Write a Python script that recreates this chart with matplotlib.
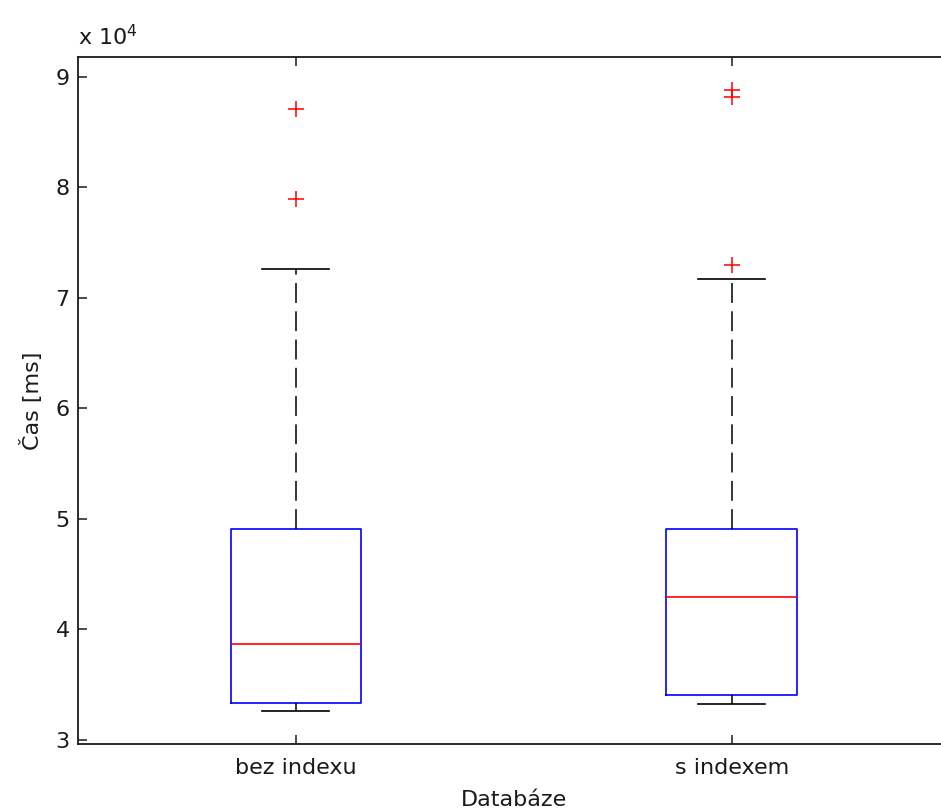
import matplotlib
matplotlib.use('Agg')
import matplotlib.pyplot as plt
from matplotlib.ticker import FuncFormatter

# box statistics, in ms
labels = ['bez indexu', 's indexem']
q1 = [33350, 34040]
median = [38710, 42900]
q3 = [49050, 49050]
whislo = [32590, 33280]
whishi = [72590, 71650]
outliers = [[87050, 78940], [88830, 88170, 72950]]

plt.rcParams['font.family'] = 'DejaVu Sans'
plt.rcParams['font.size'] = 16

fig = plt.figure(figsize=(9.41, 8.09), dpi=100)
# right spine sits just outside the picture, as in the screenshot
ax = fig.add_axes([78 / 941, 65 / 809, 871.6 / 941, 687 / 809])

stats = []
for i in range(len(labels)):
    stats.append({'label': labels[i], 'q1': q1[i], 'med': median[i], 'q3': q3[i],
                  'whislo': whislo[i], 'whishi': whishi[i], 'fliers': outliers[i]})

ax.bxp(stats, positions=[1, 2], widths=0.3, capwidths=0.154,
       boxprops=dict(color='#0000ff', lw=1.2),
       medianprops=dict(color='#ff0000', lw=1.2),
       whiskerprops=dict(color='black', lw=1.1, linestyle=(0, (13, 5.5))),
       capprops=dict(color='black', lw=1.2),
       flierprops=dict(marker='+', markeredgecolor='#ff0000', markersize=12,
                       markeredgewidth=1.1, linestyle='none'))

ax.set_xlim(0.5, 2.5)
ax.set_ylim(29640, 91770)
ax.set_yticks([30000, 40000, 50000, 60000, 70000, 80000, 90000])
ax.yaxis.set_major_formatter(FuncFormatter(lambda v, p: f'{v / 1e4:g}'))
ax.set_xticks([1, 2])
ax.set_xticklabels(labels)

ax.tick_params(direction='in', length=6.5, width=1.1, top=True, right=True,
               labelsize=16, pad=6, colors='#1a1a1a')
ax.tick_params(axis='x', pad=10)
for s in ax.spines.values():
    s.set_linewidth(1.3)
    s.set_color('#1a1a1a')

ax.set_xlabel('Databáze', fontsize=16, labelpad=9, color='#1a1a1a')
ax.set_ylabel('Čas [ms]', fontsize=16, labelpad=9, color='#1a1a1a')
ax.text(0.0, 1.012, 'x 10$^4$', transform=ax.transAxes, fontsize=16,
        ha='left', va='bottom', color='#1a1a1a')

fig.savefig('out.png', dpi=100)
